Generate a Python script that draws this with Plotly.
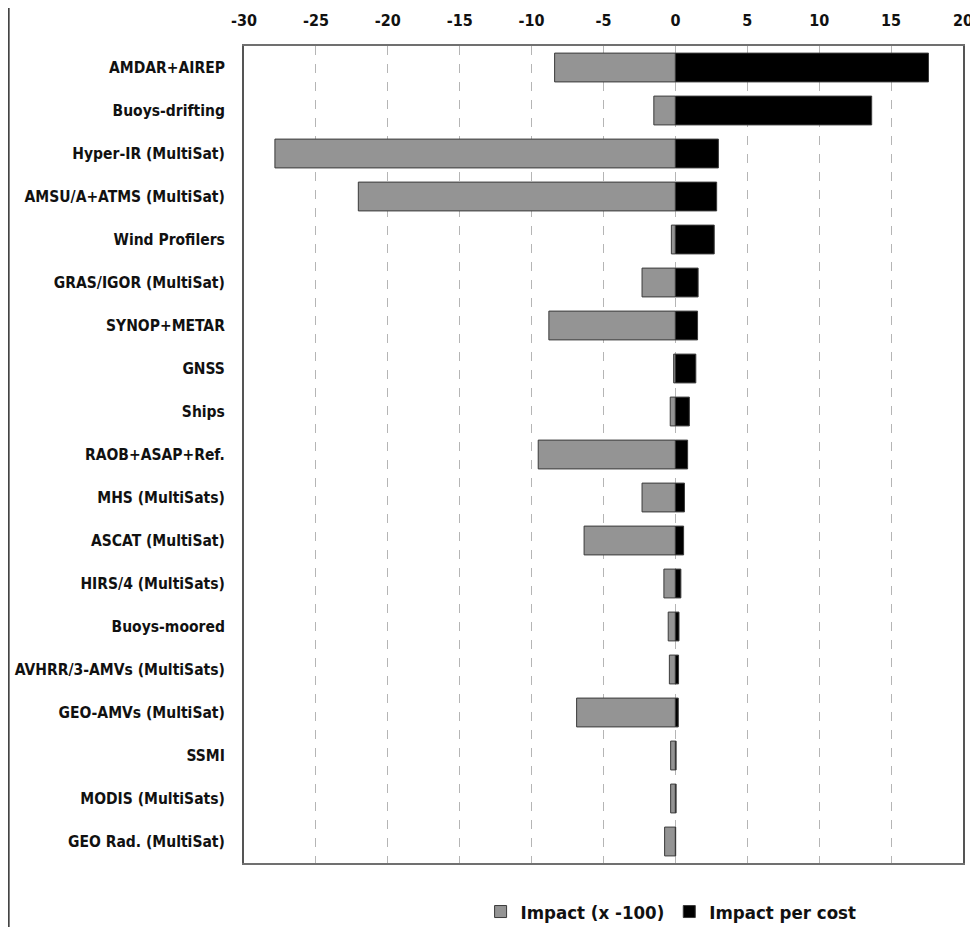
import plotly.graph_objects as go

categories = ["AMDAR+AIREP", "Buoys-drifting", "Hyper-IR (MultiSat)", "AMSU/A+ATMS (MultiSat)",
              "Wind Profilers", "GRAS/IGOR (MultiSat)", "SYNOP+METAR", "GNSS", "Ships",
              "RAOB+ASAP+Ref.", "MHS (MultiSats)", "ASCAT (MultiSat)", "HIRS/4 (MultiSats)",
              "Buoys-moored", "AVHRR/3-AMVs (MultiSats)", "GEO-AMVs (MultiSat)", "SSMI",
              "MODIS (MultiSats)", "GEO Rad. (MultiSat)"]
impact = [-8.4, -1.5, -27.85, -22.05, -0.28, -2.32, -8.8, -0.12, -0.36, -9.54, -2.32, -6.35,
          -0.8, -0.5, -0.42, -6.87, -0.33, -0.33, -0.75]
impact_per_cost = [17.6, 13.65, 2.99, 2.87, 2.7, 1.58, 1.54, 1.42, 0.97, 0.85, 0.63, 0.57,
                   0.38, 0.25, 0.22, 0.2, 0.05, 0.05, 0.02]
x_ticks = [-30, -25, -20, -15, -10, -5, 0, 5, 10, 15, 20]
x_tick_labels = ["-30", "-25", "-20", "-15", "-10", "-5", "0", "5", "10", "15", "20"]

FONT = "DejaVu Sans Condensed, Liberation Sans Narrow, Arial Narrow, sans-serif"

fig = go.Figure()
fig.add_trace(go.Bar(y=categories, x=impact, orientation="h", name="Impact (x -100)",
                     marker=dict(color="#949494", line=dict(color="#3a3a3a", width=1))))
fig.add_trace(go.Bar(y=categories, x=impact_per_cost, orientation="h", name="Impact per cost",
                     marker=dict(color="#000000", line=dict(color="#3a3a3a", width=1))))

fig.update_layout(
    width=970, height=919,
    margin=dict(l=236, r=15, t=38, b=64),
    barmode="relative", bargap=0.33,
    plot_bgcolor="white", paper_bgcolor="white",
    font=dict(family=FONT, size=15.5, color="#111111", weight="bold"),
    showlegend=True,
    legend=dict(orientation="h", x=0.594, xanchor="center",
                yref="container", y=0.0163, yanchor="middle",
                font=dict(size=18.5, family=FONT, weight="bold"), itemwidth=30,
                traceorder="normal", bgcolor="rgba(0,0,0,0)"),
    xaxis=dict(side="top", range=[-30, 20], tickvals=x_ticks, ticktext=x_tick_labels, ticks="",
               showgrid=True, gridcolor="#b5b5b5", griddash="dash", gridwidth=1,
               zeroline=False, showline=True, linecolor="#707070", linewidth=2, mirror=True,
               ticklabelstandoff=12,
               automargin=False, tickfont=dict(size=16, family=FONT, weight="bold")),
    yaxis=dict(autorange="reversed", showline=True, linecolor="#555555", linewidth=2, mirror=True,
               ticks="", ticklabelstandoff=14, showgrid=False, automargin=False,
               tickfont=dict(size=15.5, family=FONT, weight="bold")),
    shapes=[dict(type="line", xref="paper", yref="paper", x0=-0.328, x1=-0.328, y0=-0.1, y1=1.1,
                 line=dict(color="#444444", width=3))],
)

fig.write_html("out.html")
